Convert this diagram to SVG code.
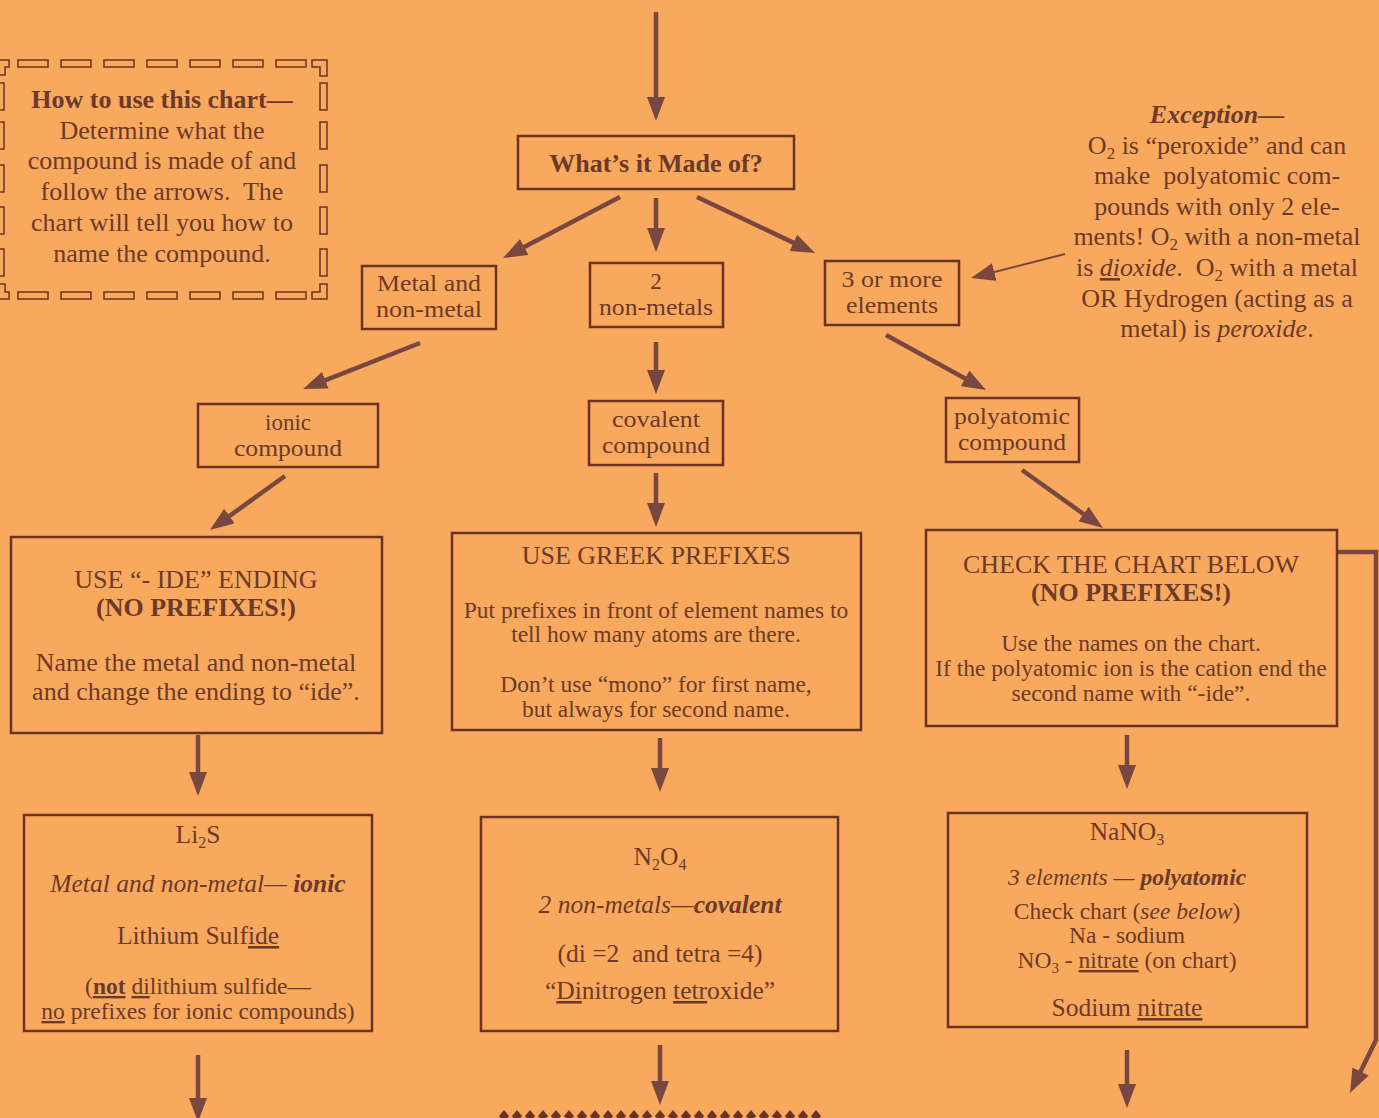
<svg xmlns="http://www.w3.org/2000/svg" width="1379" height="1118" viewBox="0 0 1379 1118">
<defs>
<style>
.t{font-family:"Liberation Serif","Times New Roman",serif;fill:#6C3A2A;text-anchor:middle}
.box{fill:none;stroke:#6A3323;stroke-width:2.5}
.lbl{font-size:23px}
.hd{font-size:26px}
.md{font-size:25.5px}
.sm{font-size:23.5px}
.b{font-weight:bold}
.i{font-style:italic}
.u{text-decoration:underline}
.conn line,.conn polyline{stroke:#784840;stroke-width:4.5;fill:none;marker-end:url(#ah)}
.conn .thin{stroke-width:2}
.dash rect,.dash path{fill:none;stroke:#6A3323;stroke-width:1.5}
.dm{fill:#6A3323}
</style>
<marker id="ah" markerUnits="userSpaceOnUse" markerWidth="24" markerHeight="18" refX="12" refY="9" orient="auto">
<path d="M0,0 L24,9 L0,18 z" fill="#784840"/>
</marker>
<path id="dm" d="M0,-6 L5,0 L0,6 L-5,0 z"/>
</defs>
<rect x="0" y="0" width="1379" height="1118" fill="#F8A95D"/>

<g id="connectors" class="conn">
<line x1="656" y1="12" x2="656" y2="109"/>
<line x1="620" y1="197" x2="513.6" y2="252.5"/>
<line x1="656" y1="198" x2="656" y2="240"/>
<line x1="697" y1="197" x2="804.2" y2="247.9"/>
<line class="thin" x1="1065" y1="254" x2="982.6" y2="275"/>
<line x1="420" y1="343" x2="314.2" y2="384.6"/>
<line x1="656" y1="342" x2="656" y2="382"/>
<line x1="886" y1="335" x2="975.5" y2="384.2"/>
<line x1="285" y1="476" x2="219.7" y2="523"/>
<line x1="656" y1="473" x2="656" y2="515"/>
<line x1="1022" y1="470" x2="1093.2" y2="521"/>
<line x1="198" y1="735" x2="198" y2="784"/>
<line x1="660" y1="738" x2="660" y2="780"/>
<line x1="1127" y1="735" x2="1127" y2="777"/>
<line x1="198" y1="1055" x2="198" y2="1110"/>
<line x1="660" y1="1045" x2="660" y2="1093"/>
<line x1="1127" y1="1050" x2="1127" y2="1096"/>
<polyline points="1337,552 1376,552 1376,1040 1355.3,1082.2"/>
</g>

<g id="n-howto">
<g class="dash">
<path d="M0,60 H9 V67 H5 V75 H0"/>
<rect x="18" y="60" width="30" height="7"/>
<rect x="61" y="60" width="30" height="7"/>
<rect x="104" y="60" width="30" height="7"/>
<rect x="147" y="60" width="30" height="7"/>
<rect x="190" y="60" width="30" height="7"/>
<rect x="233" y="60" width="30" height="7"/>
<rect x="276" y="60" width="30" height="7"/>
<path d="M312,60 H327 V76 H320 V67 H312 Z"/>
<rect x="-3" y="83" width="7" height="27"/>
<rect x="-3" y="122" width="7" height="27"/>
<rect x="-3" y="165" width="7" height="27"/>
<rect x="-3" y="207" width="7" height="27"/>
<rect x="-3" y="249" width="7" height="27"/>
<rect x="320" y="83" width="7" height="27"/>
<rect x="320" y="122" width="7" height="27"/>
<rect x="320" y="165" width="7" height="27"/>
<rect x="320" y="207" width="7" height="27"/>
<rect x="320" y="249" width="7" height="27"/>
<path d="M0,284 H5 V292 H9 V299 H0"/>
<rect x="18" y="292" width="30" height="7"/>
<rect x="61" y="292" width="30" height="7"/>
<rect x="104" y="292" width="30" height="7"/>
<rect x="147" y="292" width="30" height="7"/>
<rect x="190" y="292" width="30" height="7"/>
<rect x="233" y="292" width="30" height="7"/>
<rect x="276" y="292" width="30" height="7"/>
<path d="M312,292 H320 V284 H327 V299 H312 Z"/>
</g>
<text class="t hd b" x="162" y="108">How to use this chart—</text>
<text class="t hd" x="162" y="139">Determine what the</text>
<text class="t hd" x="162" y="169">compound is made of and</text>
<text class="t hd" x="162" y="200">follow the arrows.&#160; The</text>
<text class="t hd" x="162" y="231">chart will tell you how to</text>
<text class="t hd" x="162" y="262">name the compound.</text>
</g>

<g id="n-what">
<rect class="box" x="518" y="136" width="276" height="53"/>
<text class="t hd b" x="656" y="172">What’s it Made of?</text>
</g>

<g id="n-exception">
<text class="t hd b i" x="1217" y="123">Exception—</text>
<text class="t hd" x="1217" y="154">O<tspan font-size="17" dy="5">2</tspan><tspan dy="-5"> is “peroxide” and can</tspan></text>
<text class="t hd" x="1217" y="184">make&#160; polyatomic com-</text>
<text class="t hd" x="1217" y="215">pounds with only 2 ele-</text>
<text class="t hd" x="1217" y="245">ments! O<tspan font-size="17" dy="5">2</tspan><tspan dy="-5"> with a non-metal</tspan></text>
<text class="t hd" x="1217" y="276">is <tspan class="i u">di</tspan><tspan class="i">oxide</tspan>.&#160; O<tspan font-size="17" dy="5">2</tspan><tspan dy="-5"> with a metal</tspan></text>
<text class="t hd" x="1217" y="307">OR Hydrogen (acting as a</text>
<text class="t hd" x="1217" y="337">metal) is <tspan class="i">peroxide</tspan>.</text>
</g>

<g id="n-metal">
<rect class="box" x="362" y="266" width="134" height="63"/>
<text class="t lbl" x="429" y="291" textLength="104" lengthAdjust="spacingAndGlyphs">Metal and</text>
<text class="t lbl" x="429" y="317" textLength="106" lengthAdjust="spacingAndGlyphs">non-metal</text>
</g>
<g id="n-2nonmetal">
<rect class="box" x="590" y="263" width="133" height="64"/>
<text class="t lbl" x="656" y="289">2</text>
<text class="t lbl" x="656" y="315" textLength="114" lengthAdjust="spacingAndGlyphs">non-metals</text>
</g>
<g id="n-3more">
<rect class="box" x="825" y="261" width="134" height="64"/>
<text class="t lbl" x="892" y="287" textLength="101" lengthAdjust="spacingAndGlyphs">3 or more</text>
<text class="t lbl" x="892" y="313" textLength="92" lengthAdjust="spacingAndGlyphs">elements</text>
</g>

<g id="n-ionic">
<rect class="box" x="198" y="404" width="180" height="63"/>
<text class="t lbl" x="288" y="430">ionic</text>
<text class="t lbl" x="288" y="456" textLength="108" lengthAdjust="spacingAndGlyphs">compound</text>
</g>
<g id="n-covalent">
<rect class="box" x="589" y="401" width="134" height="64"/>
<text class="t lbl" x="656" y="427" textLength="88" lengthAdjust="spacingAndGlyphs">covalent</text>
<text class="t lbl" x="656" y="453" textLength="108" lengthAdjust="spacingAndGlyphs">compound</text>
</g>
<g id="n-poly">
<rect class="box" x="946" y="398" width="133" height="64"/>
<text class="t lbl" x="1012" y="424" textLength="116" lengthAdjust="spacingAndGlyphs">polyatomic</text>
<text class="t lbl" x="1012" y="450" textLength="108" lengthAdjust="spacingAndGlyphs">compound</text>
</g>

<g id="n-ide">
<rect class="box" x="11" y="537" width="371" height="196"/>
<text class="t hd" x="196" y="588">USE “- IDE” ENDING</text>
<text class="t hd b" x="196" y="616">(NO PREFIXES!)</text>
<text class="t hd" x="196" y="671">Name the metal and non-metal</text>
<text class="t hd" x="196" y="700">and change the ending to “ide”.</text>
</g>
<g id="n-greek">
<rect class="box" x="452" y="533" width="409" height="197"/>
<text class="t hd" x="656" y="564">USE GREEK PREFIXES</text>
<text class="t sm" x="656" y="618">Put prefixes in front of element names to</text>
<text class="t sm" x="656" y="642">tell how many atoms are there.</text>
<text class="t sm" x="656" y="692">Don’t use “mono” for first name,</text>
<text class="t sm" x="656" y="717">but always for second name.</text>
</g>
<g id="n-check">
<rect class="box" x="926" y="530" width="411" height="196"/>
<text class="t hd" x="1131" y="573">CHECK THE CHART BELOW</text>
<text class="t hd b" x="1131" y="601">(NO PREFIXES!)</text>
<text class="t sm" x="1131" y="651">Use the names on the chart.</text>
<text class="t sm" x="1131" y="676">If the polyatomic ion is the cation end the</text>
<text class="t sm" x="1131" y="701">second name with “-ide”.</text>
</g>

<g id="n-ex-ionic">
<rect class="box" x="24" y="815" width="348" height="216"/>
<text class="t md" x="198" y="843">Li<tspan font-size="16" dy="5">2</tspan><tspan dy="-5">S</tspan></text>
<text class="t md i" x="198" y="892">Metal and non-metal— <tspan class="b">ionic</tspan></text>
<text class="t md" x="198" y="944">Lithium Sulf<tspan class="u">ide</tspan></text>
<text class="t sm" x="198" y="994">(<tspan class="b u">not</tspan> <tspan class="u">di</tspan>lithium sulfide—</text>
<text class="t sm" x="198" y="1019"><tspan class="u">no</tspan> prefixes for ionic compounds)</text>
</g>
<g id="n-ex-cov">
<rect class="box" x="481" y="817" width="357" height="214"/>
<text class="t md" x="660" y="865">N<tspan font-size="16" dy="5">2</tspan><tspan dy="-5">O</tspan><tspan font-size="16" dy="5">4</tspan></text>
<text class="t md i" x="660" y="913">2 non-metals—<tspan class="b">covalent</tspan></text>
<text class="t md" x="660" y="962">(di =2&#160; and tetra =4)</text>
<text class="t md" x="660" y="999">“<tspan class="u">Di</tspan>nitrogen <tspan class="u">tetr</tspan>oxide”</text>
</g>
<g id="n-ex-poly">
<rect class="box" x="948" y="813" width="359" height="214"/>
<text class="t md" x="1127" y="840">NaNO<tspan font-size="16" dy="5">3</tspan></text>
<text class="t sm i" x="1127" y="885">3 elements — <tspan class="b">polyatomic</tspan></text>
<text class="t sm" x="1127" y="919">Check chart (<tspan class="i">see below</tspan>)</text>
<text class="t sm" x="1127" y="943">Na - sodium</text>
<text class="t sm" x="1127" y="968">NO<tspan font-size="15" dy="5">3</tspan><tspan dy="-5"> - </tspan><tspan class="u">nitrate</tspan> (on chart)</text>
<text class="t md" x="1127" y="1016">Sodium <tspan class="u">nitrate</tspan></text>
</g>

<g id="n-diamonds" class="dm">
<use href="#dm" x="504" y="1116"/><use href="#dm" x="517" y="1116"/><use href="#dm" x="530" y="1116"/><use href="#dm" x="543" y="1116"/><use href="#dm" x="556" y="1116"/>
<use href="#dm" x="569" y="1116"/><use href="#dm" x="582" y="1116"/><use href="#dm" x="595" y="1116"/><use href="#dm" x="608" y="1116"/><use href="#dm" x="621" y="1116"/>
<use href="#dm" x="634" y="1116"/><use href="#dm" x="647" y="1116"/><use href="#dm" x="660" y="1116"/><use href="#dm" x="673" y="1116"/><use href="#dm" x="686" y="1116"/>
<use href="#dm" x="699" y="1116"/><use href="#dm" x="712" y="1116"/><use href="#dm" x="725" y="1116"/><use href="#dm" x="738" y="1116"/><use href="#dm" x="751" y="1116"/>
<use href="#dm" x="764" y="1116"/><use href="#dm" x="777" y="1116"/><use href="#dm" x="790" y="1116"/><use href="#dm" x="803" y="1116"/><use href="#dm" x="816" y="1116"/>
</g>
</svg>
